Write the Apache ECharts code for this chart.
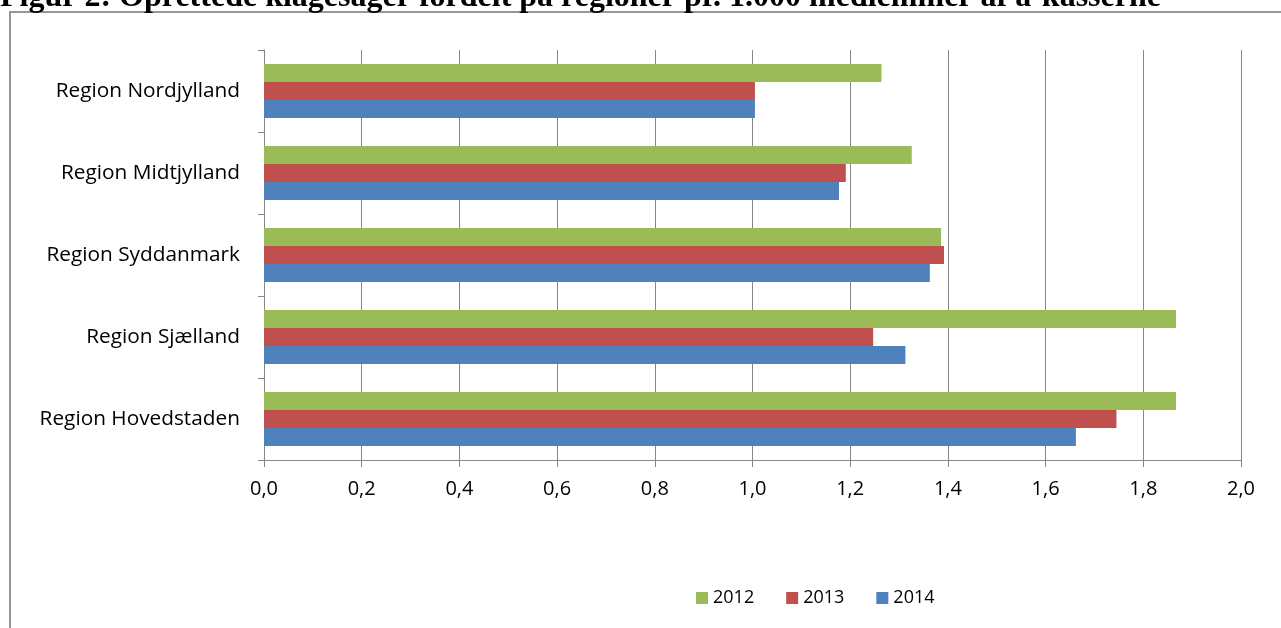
<!DOCTYPE html>
<html>
<head>
<meta charset="utf-8">
<style>
  html, body { margin: 0; padding: 0; background: #fff; }
  #main { width: 1281px; height: 628px; }
</style>
<script src="https://cdn.jsdelivr.net/npm/echarts@6/dist/echarts.min.js"></script>
</head>
<body>
<div id="main"></div>
<script>
// regions, bottom to top as drawn on the category axis
var regions = ["Region Hovedstaden", "Region Sjælland", "Region Syddanmark", "Region Midtjylland", "Region Nordjylland"];
var years = ["2012", "2013", "2014"];
var v2012 = [1.867, 1.867, 1.386, 1.326, 1.264];
var v2013 = [1.745, 1.247, 1.392, 1.191, 1.005];
var v2014 = [1.662, 1.313, 1.363, 1.177, 1.005];
var colors = ["#9BBB59", "#C0504D", "#4F81BD"];

var font = "'Open Sans', Lato, sans-serif";
var gray = "#868686";

var chart = echarts.init(document.getElementById("main"));

var seriesData = [v2012, v2013, v2014];
var series = years.map(function (y, i) {
  return {
    name: y,
    type: "bar",
    data: seriesData[i],
    barWidth: 18,
    barGap: 0,
    itemStyle: { color: colors[i] }
  };
});

chart.setOption({
  animation: false,
  color: colors,
  graphic: [
    {
      type: "rect",
      shape: { x: 10, y: 12, width: 1300, height: 700 },
      style: { fill: "none", stroke: "#969696", lineWidth: 2 },
      z: -1
    },
    {
      // title is cut off by the top edge in the original
      type: "text",
      left: 0,
      top: -18,
      style: {
        text: "Figur 2: Oprettede klagesager fordelt på regioner pr. 1.000 medlemmer af a-kasserne",
        font: "bold 32px 'Liberation Serif', 'DejaVu Serif', serif",
        fill: "#000"
      }
    }
  ],
  grid: { left: 264, right: 40, top: 50, bottom: 168, containLabel: false },
  legend: {
    data: years,
    left: 691,
    top: 584,
    itemWidth: 12,
    itemHeight: 12,
    itemGap: 32,
    icon: "rect",
    textStyle: { fontFamily: font, fontSize: 18, color: "#000" }
  },
  xAxis: {
    type: "value",
    min: 0,
    max: 2,
    interval: 0.2,
    axisLine: { show: true, lineStyle: { color: gray, width: 1 } },
    axisTick: { show: true, length: 7, lineStyle: { color: gray } },
    splitLine: { show: true, lineStyle: { color: gray, width: 1 } },
    axisLabel: {
      fontFamily: font,
      fontSize: 20,
      color: "#000",
      margin: 19,
      formatter: function (v) { return v.toFixed(1).replace(".", ","); }
    }
  },
  yAxis: {
    type: "category",
    data: regions,
    axisLine: { show: true, lineStyle: { color: gray, width: 1 } },
    axisTick: { show: true, length: 6, lineStyle: { color: gray } },
    axisLabel: { fontFamily: font, fontSize: 20.8, color: "#000", margin: 24 }
  },
  series: series
});
</script>
</body>
</html>
